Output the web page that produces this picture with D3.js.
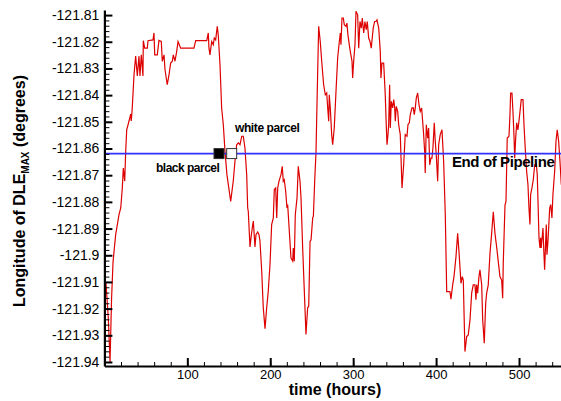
<!DOCTYPE html>
<html><head><meta charset="utf-8">
<script src="https://cdn.jsdelivr.net/npm/d3@7"></script>
<style>
html,body{margin:0;padding:0;background:#fff;}
svg{display:block;font-family:"Liberation Sans",Arial,Helvetica,sans-serif;}
</style></head>
<body><svg id="c" width="561" height="401"></svg>
<script>
const times = [0.1,1.9,4.7,6.8,8.6,10.4,13.6,17.6,19.7,21.6,22.8,24.5,25.7,26.9,29.7,31.7,32.4,33.6,35.7,37.7,39.7,41.7,42.9,44.5,46.5,46.9,48.6,51.7,52.6,58.6,59.8,60.7,63.8,65.8,68.6,69.8,71.9,73.1,75.8,77.9,79.9,81.9,83.1,85.1,87.2,88.8,92,108,110.1,123.4,125.3,126.1,127.3,129.4,131.3,132.5,134.2,136.1,137.3,139.4,141.4,143.4,145.4,147.8,152.3,155.4,157.5,159.5,161.5,163.5,165.6,167.5,169.5,171.6,172.8,173.5,175.6,176.8,178.3,179.6,181.6,182.8,184.9,186.4,187.6,189.7,191.6,193.7,195.7,197.6,199.7,201.7,203.7,204.9,206.6,207.8,209,210.5,213,214.5,215.7,216.9,218.6,220.2,221,223,225,227.1,227.8,229,230.2,232.3,233.8,235.9,237.1,239.1,241.1,243.1,245.1,246.4,248,249.2,251.2,252,253.6,255.2,256.7,258.4,260.3,262.4,264.4,266.4,268.1,269.3,270.5,271.2,272.4,274.1,275.3,277.2,279.3,281.3,283.3,284.5,285.3,286.5,288.1,289.3,291.3,292.5,293.7,295.3,296.5,298.6,299.4,300.6,302.2,303.4,305.4,306.7,308.2,309.8,311,312.7,314.2,315.8,317,318.7,320.3,321.8,323,324.2,325.9,327.5,328.7,330.8,332.7,333.5,334.7,336.8,338.7,339.9,340.8,342,342.8,344,344.8,346,347.6,348.9,350.1,350.8,352,353.7,354.9,356.8,358.9,360.9,362.8,364.9,366.1,367.7,368.9,370.9,372.5,373.7,374.9,376.1,377.8,379.4,380.9,382.6,383.8,385,386.2,386.9,388.2,389.9,391,392.3,393.8,395,396.2,397.8,399,400.2,401.9,403.1,405,407.1,409.1,411.1,412.8,416.7,417.9,420,421.6,424,426,428,430,431.6,432.8,434.8,436.9,438.8,440.9,442.9,444.8,446.9,448.1,448.9,450.1,451.7,452.9,455,456.2,458.1,459.8,461,462.9,465,467,469,471,473,475,477,479.1,480.3,481,483.1,484.3,485.8,487.9,489.1,489.9,491.5,492.7,493.9,494.8,496,497.2,498.7,500.8,502.7,504.8,506,507.5,509.2,510.8,512,513.2,514,515.6,517.2,518.9,520.8,522,522.9,524.1,525.3,526.1,526.8,528.9,530.1,530.9,532.9,533.7,534.9,537,538.2,539.7,540.9,543,544.6,546.1,547.8,549.4,551];
const longitude = [-121.9093,-121.9104,-121.9235,-121.9400,-121.9167,-121.9025,-121.8923,-121.8848,-121.8823,-121.8748,-121.8673,-121.8722,-121.8609,-121.8530,-121.8497,-121.8471,-121.8497,-121.8448,-121.8324,-121.8254,-121.8328,-121.8254,-121.8328,-121.8249,-121.8328,-121.8196,-121.8224,-121.8224,-121.8196,-121.8193,-121.8167,-121.8249,-121.8249,-121.8195,-121.8199,-121.8273,-121.8249,-121.8305,-121.8361,-121.8324,-121.8280,-121.8273,-121.8249,-121.8273,-121.8236,-121.8199,-121.8224,-121.8224,-121.8196,-121.8196,-121.8167,-121.8224,-121.8249,-121.8199,-121.8211,-121.8186,-121.8193,-121.8142,-121.8174,-121.8286,-121.8448,-121.8511,-121.8609,-121.8699,-121.8798,-121.8722,-121.8647,-121.8586,-121.8579,-121.8586,-121.8554,-121.8554,-121.8598,-121.8698,-121.8823,-121.8835,-121.8969,-121.8935,-121.8898,-121.8872,-121.8969,-121.8923,-121.8913,-121.8923,-121.8946,-121.9059,-121.9197,-121.9275,-121.9197,-121.9135,-121.9035,-121.8885,-121.8860,-121.8754,-121.8748,-121.8860,-121.8748,-121.8723,-121.8698,-121.8667,-121.8723,-121.8717,-121.8760,-121.8823,-121.8810,-121.8910,-121.9010,-121.9022,-121.8973,-121.9022,-121.8848,-121.8785,-121.8667,-121.8723,-121.8785,-121.8973,-121.9135,-121.9297,-121.9197,-121.9191,-121.8948,-121.8942,-121.8860,-121.8854,-121.8723,-121.8611,-121.8386,-121.8142,-121.8199,-121.8286,-121.8361,-121.8399,-121.8392,-121.8448,-121.8498,-121.8399,-121.8448,-121.8548,-121.8586,-121.8523,-121.8386,-121.8261,-121.8199,-121.8167,-121.8211,-121.8111,-121.8111,-121.8136,-121.8142,-121.8130,-121.8174,-121.8211,-121.8236,-121.8273,-121.8336,-121.8273,-121.8211,-121.8086,-121.8099,-121.8224,-121.8124,-121.8149,-121.8111,-121.8167,-121.8124,-121.8155,-121.8124,-121.8186,-121.8199,-121.8224,-121.8186,-121.8149,-121.8124,-121.8124,-121.8118,-121.8149,-121.8236,-121.8336,-121.8280,-121.8280,-121.8399,-121.8511,-121.8586,-121.8548,-121.8511,-121.8361,-121.8523,-121.8423,-121.8448,-121.8417,-121.8448,-121.8498,-121.8442,-121.8461,-121.8511,-121.8548,-121.8748,-121.8661,-121.8548,-121.8554,-121.8511,-121.8504,-121.8473,-121.8448,-121.8448,-121.8473,-121.8448,-121.8411,-121.8392,-121.8436,-121.8461,-121.8448,-121.8498,-121.8548,-121.8611,-121.8692,-121.8511,-121.8561,-121.8523,-121.8661,-121.8636,-121.8636,-121.8598,-121.8504,-121.8573,-121.8623,-121.8723,-121.8586,-121.8548,-121.8530,-121.8648,-121.8848,-121.9136,-121.9136,-121.9165,-121.9111,-121.9080,-121.9005,-121.8918,-121.9005,-121.9105,-121.9080,-121.9093,-121.9361,-121.9305,-121.9299,-121.9242,-121.9142,-121.9111,-121.9111,-121.9167,-121.9111,-121.9142,-121.9080,-121.9055,-121.9111,-121.9242,-121.9330,-121.9180,-121.9142,-121.9111,-121.8993,-121.8918,-121.8837,-121.8918,-121.8968,-121.9024,-121.9080,-121.9093,-121.9161,-121.9030,-121.8812,-121.8798,-121.8561,-121.8554,-121.8473,-121.8392,-121.8392,-121.8461,-121.8548,-121.8636,-121.8561,-121.8504,-121.8530,-121.8473,-121.8417,-121.8417,-121.8511,-121.8598,-121.8685,-121.8736,-121.8823,-121.8885,-121.8773,-121.8748,-121.8717,-121.8661,-121.8658,-121.8698,-121.8798,-121.8935,-121.8973,-121.8935,-121.8973,-121.8898,-121.8998,-121.9054,-121.8885,-121.8998,-121.8948,-121.8823,-121.8810,-121.8860,-121.8773,-121.8685,-121.8573,-121.8530,-121.8573,-121.8648,-121.8736];
const endOfPipeline = -121.8619;
const parcels = [{name:"black parcel", t:138.2, fill:"#000"},{name:"white parcel", t:153.5, fill:"#fff"}];
const xTicks = [100,200,300,400,500];
const yTicks = [-121.81,-121.82,-121.83,-121.84,-121.85,-121.86,-121.87,-121.88,-121.89,-121.9,-121.91,-121.92,-121.93,-121.94];
const yTickLabels = ["-121.81","-121.82","-121.83","-121.84","-121.85","-121.86","-121.87","-121.88","-121.89","-121.9","-121.91","-121.92","-121.93","-121.94"];

const svg = d3.select("#c");
const L = 104.4, R = 561.3, T = 10, B = 366;
const x = d3.scaleLinear().domain([0, 551]).range([L, R]);
const y = d3.scaleLinear().domain([-121.9415, -121.8081]).range([B, T]);

svg.append("defs").append("clipPath").attr("id","clip")
  .append("rect").attr("x",L).attr("y",T-2).attr("width",R-L).attr("height",B-T+2);

const data = times.map((t,i)=>({t, v:longitude[i]}));
const line = d3.line().x(d=>x(d.t)).y(d=>y(d.v));

svg.append("path").datum(data).attr("clip-path","url(#clip)")
  .attr("d", line).attr("fill","none").attr("stroke","#dd0000").attr("stroke-width",1.2)
  .attr("stroke-linejoin","miter");

// End of pipeline line
svg.append("line").attr("x1",L).attr("x2",R).attr("y1",y(endOfPipeline)).attr("y2",y(endOfPipeline))
  .attr("stroke","#3030ff").attr("stroke-width",1.8);

// parcels
svg.selectAll("rect.parcel").data(parcels).enter().append("rect").attr("class","parcel")
  .attr("x",d=>x(d.t)-5).attr("y",y(endOfPipeline)-5).attr("width",10).attr("height",10)
  .attr("fill",d=>d.fill).attr("stroke","#333").attr("stroke-width",1);

const lbl = (txt, xx, yy, size, anchor) => svg.append("text").attr("x",xx).attr("y",yy)
  .attr("font-size",size).attr("font-weight","bold").attr("text-anchor",anchor||"start").text(txt);
lbl("white parcel", 235, 132, 12).attr("letter-spacing","-0.4px");
lbl("black parcel", 156, 172, 12).attr("letter-spacing","-0.5px");
lbl("End of Pipeline", 452, 167, 15).attr("letter-spacing","-0.4px");

// axes
const yMinor = d3.range(0, 67).map(i => -121.94 + i*0.002).filter(v => v <= -121.8081);
svg.append("g").attr("transform",`translate(${L},0)`)
  .call(d3.axisLeft(y).tickValues(yMinor).tickSizeInner(-5).tickSizeOuter(0).tickFormat(""))
  .call(g=>g.select(".domain").remove())
  .call(g=>g.selectAll("line").attr("stroke","#000").attr("stroke-width",1));
svg.append("g").attr("transform",`translate(${L},0)`)
  .call(d3.axisLeft(y).tickValues(yTicks).tickSizeInner(-8).tickSizeOuter(0).tickPadding(5)
    .tickFormat((d,i)=>yTickLabels[i]))
  .call(g=>g.select(".domain").attr("stroke-width",2.2))
  .call(g=>g.selectAll("line").attr("stroke-width",2))
  .call(g=>g.selectAll("text").attr("font-size",14).attr("font-family","'Liberation Sans',Arial,sans-serif").attr("fill","#000"));

const xMinor = d3.range(20, 551, 20);
svg.append("g").attr("transform",`translate(0,${B})`)
  .call(d3.axisBottom(x).tickValues(xMinor).tickSizeInner(-4).tickSizeOuter(0).tickFormat(""))
  .call(g=>g.select(".domain").remove())
  .call(g=>g.selectAll("line").attr("stroke-width",1));
svg.append("g").attr("transform",`translate(0,${B})`)
  .call(d3.axisBottom(x).tickValues(xTicks).tickSizeInner(-8).tickSizeOuter(0).tickPadding(4))
  .call(g=>g.select(".domain").attr("stroke-width",2.2))
  .call(g=>g.selectAll("line").attr("stroke-width",2))
  .call(g=>g.selectAll("text").attr("font-size",13).attr("font-family","'Liberation Sans',Arial,sans-serif").attr("fill","#000"));

// axis titles
svg.append("text").attr("x",335).attr("y",395).attr("text-anchor","middle")
  .attr("font-size",16).attr("font-weight","bold").text("time (hours)");

const yt = svg.append("text").attr("transform","translate(25,191) rotate(-90)")
  .attr("text-anchor","middle").attr("font-size",16).attr("font-weight","bold");
yt.append("tspan").text("Longitude of DLE");
yt.append("tspan").attr("font-size",10).attr("dy",4).text("MAX");
yt.append("tspan").attr("dy",-4).text(" (degrees)");
</script></body></html>
